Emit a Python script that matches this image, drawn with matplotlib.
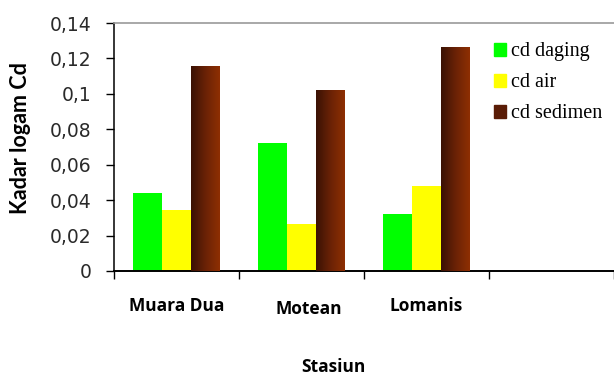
import numpy as np
import matplotlib.pyplot as plt
from matplotlib.colors import LinearSegmentedColormap
from matplotlib.patches import Rectangle
from matplotlib.ticker import FuncFormatter

stasiun = ["Muara Dua", "Motean", "Lomanis"]
cd_daging = [0.044, 0.072, 0.032]
cd_air = [0.0345, 0.0265, 0.048]
cd_sedimen = [0.1158, 0.1022, 0.1265]
series_names = ["cd daging", "cd air", "cd sedimen"]

#---------------figure and axes
fig = plt.figure(figsize=(6.14, 3.76), dpi=100)
ax = fig.add_axes([0.1857, 0.2793, 0.8143, 0.6595])

w = 0.23
x = np.arange(len(stasiun)) + 0.5
bars_d = ax.bar(x - w, cd_daging, w, color="#00ff00", zorder=2)
bars_a = ax.bar(x, cd_air, w, color="#ffff00", zorder=2)
bars_s = ax.bar(x + w, cd_sedimen, w, color="#6b2208", zorder=2)

# shaded fill for the sediment bars, dark on the left to lighter on the right
sed_cmap = LinearSegmentedColormap.from_list("sed", ["#3a1204", "#6a2206", "#8e2f02"])
grad = np.linspace(0, 1, 64).reshape(1, -1)
for b in bars_s:
    im = ax.imshow(grad, cmap=sed_cmap, aspect="auto", zorder=3,
                   extent=[b.get_x(), b.get_x() + b.get_width(), 0, b.get_height()])
    im.set_clip_path(b)

ax.set_xlim(0, 4)
ax.set_ylim(0, 0.14)
ax.set_yticks(np.arange(0, 0.141, 0.02))
ax.yaxis.set_major_formatter(FuncFormatter(
    lambda v, p: "0" if abs(v) < 1e-9 else ("%.2f" % v).rstrip("0").replace(".", ",")))
ax.tick_params(axis="y", direction="out", length=6, width=1, labelsize=13.5,
               pad=10, colors="black", labelcolor="#2a2a2a")
for lab in ax.get_yticklabels():
    lab.set_fontfamily("DejaVu Sans")

# category boundaries as ticks, names centred under each group
ax.set_xticks(np.arange(0, 5))
ax.set_xticklabels([])
ax.tick_params(axis="x", direction="out", length=6, width=1)
label_off = [(0, -35), (7, -38), (0, -35)]
for xi, name, (dx, dy) in zip(x, stasiun, label_off):
    ax.annotate(name, (xi, 0), xytext=(dx * 0.72, dy * 0.72), textcoords="offset points",
                xycoords=("data", "axes fraction"), ha="center", va="center",
                fontsize=12.5, fontweight="bold", family="Open Sans")

ax.spines["right"].set_visible(False)
ax.spines["top"].set_color("#9a9a9a")
ax.spines["top"].set_linewidth(1.2)
ax.spines["left"].set_linewidth(1.1)
ax.spines["bottom"].set_linewidth(1.4)

ax.set_ylabel("Kadar logam Cd", fontsize=15.5, fontweight="bold", family="Lato")
ax.yaxis.set_label_coords(-0.166, 0.536)
fig.text(0.543, 0.024, "Stasiun", ha="center", va="center",
         fontsize=12.5, fontweight="bold", family="Open Sans")

#---------------legend
handles = [Rectangle((0, 0), 1, 1, color="#00ff00"),
           Rectangle((0, 0), 1, 1, color="#ffff00"),
           Rectangle((0, 0), 1, 1, color="#5a1c06")]
ax.legend(handles, series_names, loc="upper left", bbox_to_anchor=(0.743, 0.955),
          frameon=False, prop={"family": "Liberation Serif", "size": 14.5},
          handlelength=0.6, handleheight=0.6, handletextpad=0.25,
          labelspacing=0.6, borderaxespad=0.0)

fig.savefig("out.png", dpi=100)
